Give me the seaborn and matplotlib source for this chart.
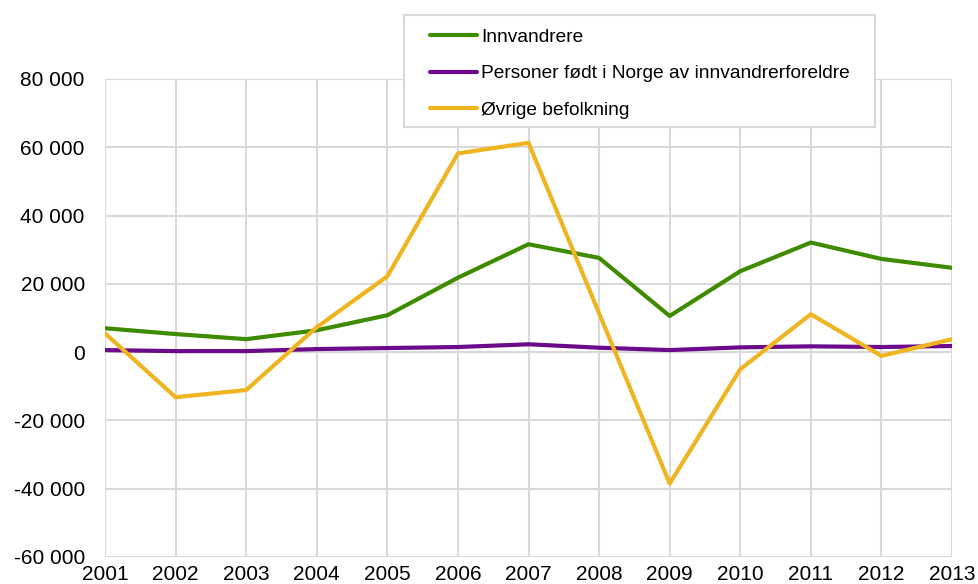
import matplotlib
matplotlib.use("Agg")
import matplotlib.pyplot as plt
import matplotlib.ticker as mticker
from matplotlib.patches import Rectangle
import seaborn as sns
import pandas as pd

years = list(range(2001, 2014))
innvandrere = [7000, 5300, 3800, 6400, 10800, 21800, 31600, 27600, 10600, 23700, 32100, 27300, 24700]
norskfodte = [600, 300, 300, 900, 1200, 1500, 2300, 1300, 600, 1400, 1700, 1500, 1800]
ovrige = [5500, -13200, -11100, 7300, 22200, 58200, 61300, 11400, -38500, -5000, 11100, -1100, 3800]

series = ["Innvandrere", "Personer født i Norge av innvandrerforeldre", "Øvrige befolkning"]
colors = ["#3F8B00", "#6B0B89", "#EFB521"]

df = pd.DataFrame({
    "year": years * 3,
    "value": innvandrere + norskfodte + ovrige,
    "group": [series[0]] * 13 + [series[1]] * 13 + [series[2]] * 13,
})

sns.set_style("white")
plt.rcParams["font.family"] = ["Liberation Sans", "DejaVu Sans"]
plt.rcParams["text.color"] = "black"

W, H = 979, 584
fig = plt.figure(figsize=(W / 100, H / 100), dpi=100)
ax = fig.add_axes([105 / W, 1 - 557 / H, (952 - 105) / W, (557 - 79) / H])

sns.lineplot(data=df, x="year", y="value", hue="group", hue_order=series,
             palette=colors, linewidth=3, ax=ax, legend=False)

ax.set_xlim(2001, 2013)
ax.set_ylim(-60000, 80000)
ax.set_xticks(years)
ax.set_yticks(range(-60000, 80001, 20000))
ax.yaxis.set_major_formatter(mticker.FuncFormatter(lambda v, p: f"{int(v):,}".replace(",", " ")))
ax.grid(True, color="#d9d9d9", linewidth=1.5)
ax.set_axisbelow(True)
for s in ax.spines.values():
    s.set_visible(False)
ax.tick_params(axis="both", labelsize=15, length=0, colors="black")
ax.tick_params(axis="x", pad=6)
ax.tick_params(axis="y", pad=14.5)
ax.set_xlabel("")
ax.set_ylabel("")

# legend box drawn separately (wider side padding than matplotlib allows)
fig.patches.append(Rectangle((404 / W, 1 - 127 / H), (875 - 404) / W, (127 - 15) / H,
                             transform=fig.transFigure, facecolor="white",
                             edgecolor="#d9d9d9", linewidth=1.5, zorder=5))
handles = [plt.Line2D([], [], color=c, linewidth=3) for c in colors]
leg = fig.legend(handles, series, loc="upper left", bbox_to_anchor=(430 / W, 1 - 28.5 / H),
                 fontsize=13.8, frameon=False, handlelength=2.45,
                 handletextpad=0.2, labelspacing=1.0, borderpad=0, borderaxespad=0)
for t in leg.get_texts():
    t.set_color("black")
leg.set_zorder(6)

fig.savefig("out.png", dpi=100)
